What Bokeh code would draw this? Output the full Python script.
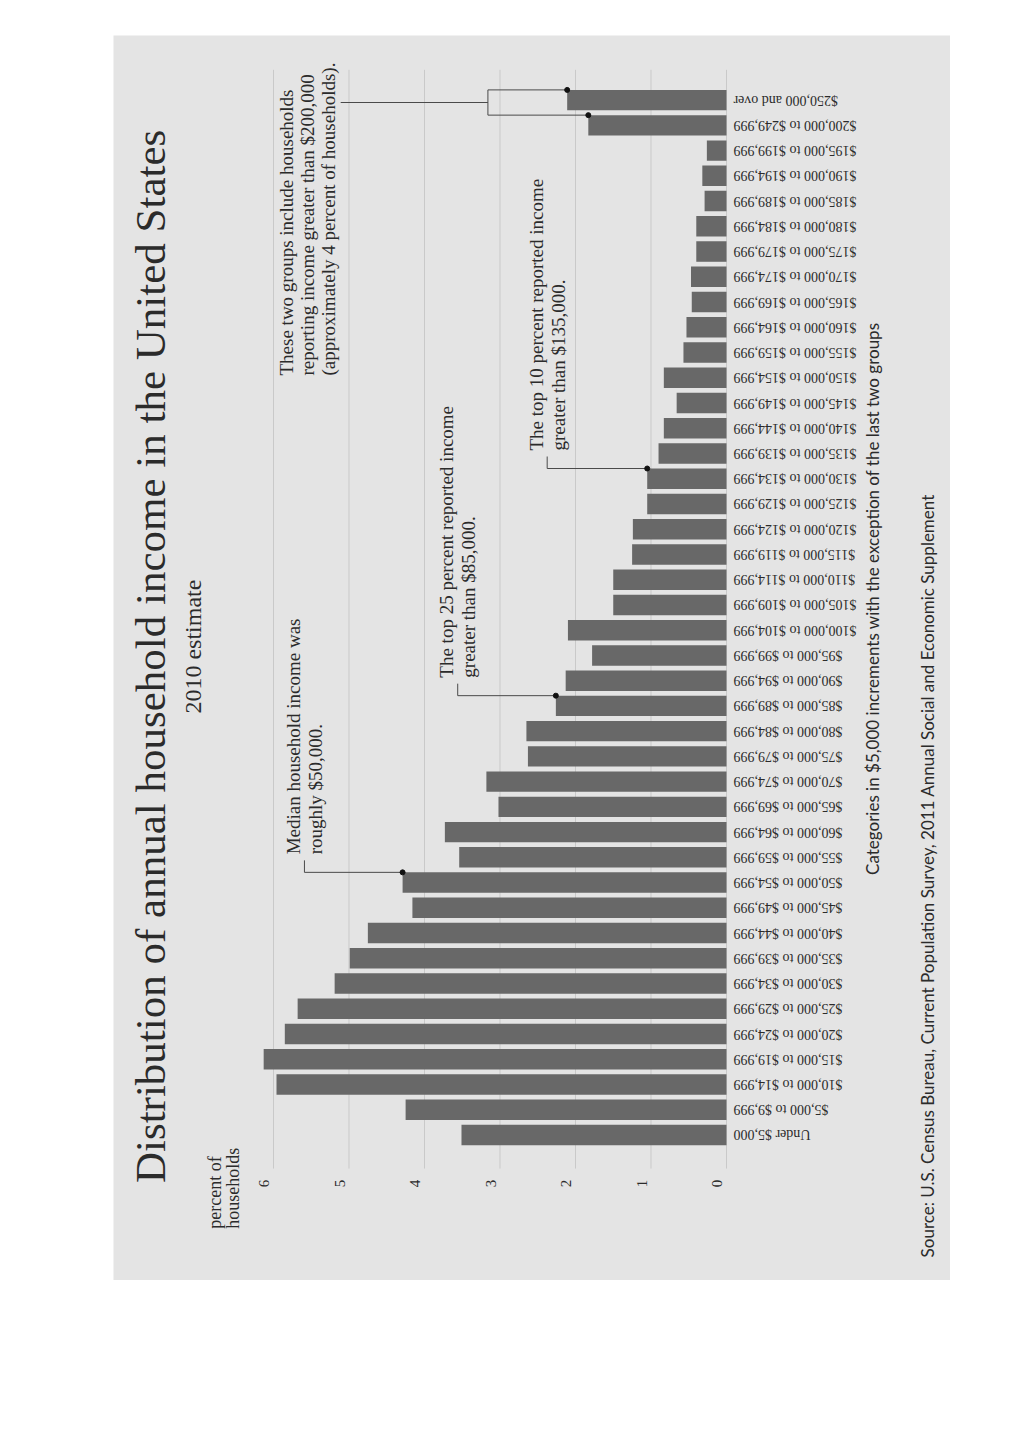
import math
from bokeh.plotting import figure
from bokeh.models import Range1d
from bokeh.embed import file_html
from bokeh.resources import INLINE
from bokeh.core.properties import value

# ---------------- data ----------------
categories = [
    "Under $5,000", "$5,000 to $9,999", "$10,000 to $14,999", "$15,000 to $19,999",
    "$20,000 to $24,999", "$25,000 to $29,999", "$30,000 to $34,999", "$35,000 to $39,999",
    "$40,000 to $44,999", "$45,000 to $49,999", "$50,000 to $54,999", "$55,000 to $59,999",
    "$60,000 to $64,999", "$65,000 to $69,999", "$70,000 to $74,999", "$75,000 to $79,999",
    "$80,000 to $84,999", "$85,000 to $89,999", "$90,000 to $94,999", "$95,000 to $99,999",
    "$100,000 to $104,999", "$105,000 to $109,999", "$110,000 to $114,999", "$115,000 to $119,999",
    "$120,000 to $124,999", "$125,000 to $129,999", "$130,000 to $134,999", "$135,000 to $139,999",
    "$140,000 to $144,999", "$145,000 to $149,999", "$150,000 to $154,999", "$155,000 to $159,999",
    "$160,000 to $164,999", "$165,000 to $169,999", "$170,000 to $174,999", "$175,000 to $179,999",
    "$180,000 to $184,999", "$185,000 to $189,999", "$190,000 to $194,999", "$195,000 to $199,999",
    "$200,000 to $249,999", "$250,000 and over",
]
percent = [
    3.51, 4.25, 5.96, 6.13, 5.85, 5.68, 5.19, 4.99, 4.75, 4.16,
    4.29, 3.54, 3.73, 3.02, 3.18, 2.63, 2.65, 2.26, 2.13, 1.78,
    2.10, 1.50, 1.50, 1.25, 1.24, 1.05, 1.05, 0.90, 0.83, 0.66,
    0.83, 0.57, 0.53, 0.46, 0.47, 0.40, 0.40, 0.29, 0.32, 0.26,
    1.83, 2.11,
]
ticks = [0, 1, 2, 3, 4, 5, 6]
tick_labels = ["0", "1", "2", "3", "4", "5", "6"]

title_text = "Distribution of annual household income in the United States"
subtitle_text = "2010 estimate"
axis_title_lines = ["percent of", "households"]
note_text = "Categories in $5,000 increments with the exception of the last two groups"
source_text = ("Source: U.S. Census Bureau, Current Population Survey, 2011 Annual Social "
               "and Economic Supplement")

callouts = [
    dict(idx=10, lines=["Median household income was", "roughly $50,000."]),
    dict(idx=17, lines=["The top 25 percent reported income", "greater than $85,000."]),
    dict(idx=26, lines=["The top 10 percent reported income", "greater than $135,000."]),
]
callout_x = [5.59, 3.56, 2.375]
top_lines = ["These two groups include households",
             "reporting income greater than $200,000",
             "(approximately 4 percent of households)."]

# ---------------- style ----------------
PAGE = "#e4e4e4"
BAR = "#686868"
GRID = "#c9c9c9"
INK = "#2b2b2b"
LEAD = "#4a4a4a"
SERIF = "Liberation Serif"
SANS = "Lato"
BAR_H = 0.81
UNIT = 75.5            # px per percent
ROW = 25.24            # px per category

idx = list(range(len(categories)))

p = figure(width=837, height=1245, output_backend="svg", toolbar_location=None,
           x_range=Range1d(8.119, -2.967), y_range=Range1d(-5.765, 43.56),
           x_axis_location=None, y_axis_location=None, min_border=0, title=None,
           background_fill_color=PAGE, border_fill_color=PAGE, outline_line_color=None)
p.margin = (35, 67, 132, 113)
p.grid.visible = False

# grid lines
p.segment(x0=ticks, x1=ticks, y0=[-1.33] * len(ticks), y1=[42.2] * len(ticks),
          line_color=GRID, line_width=1)

# bars
p.hbar(y=idx, left=0, right=percent, height=BAR_H, fill_color=BAR, line_color=None)

# category labels (upside down)
p.text(x=[-7 / UNIT] * len(idx), y=idx, text=categories, angle=math.pi,
       text_align="right", text_baseline="middle", text_font=value(SERIF),
       text_font_size="14px", text_color=INK)

# value tick labels
p.text(x=[t + 9 / UNIT for t in ticks], y=[-1.92] * len(ticks), text=tick_labels,
       angle=math.pi / 2, text_align="center", text_baseline="middle",
       text_font=value(SERIF), text_font_size="15px", text_color=INK)

# axis title
p.text(x=[6.77, 6.53], y=[-3.71, -3.71], text=axis_title_lines, angle=math.pi / 2,
       text_align="left", text_baseline="middle", text_font=value(SERIF),
       text_font_size="18px", text_color=INK)

# title / subtitle
p.text(x=[7.63], y=[18.96], text=[title_text], angle=math.pi / 2, text_align="center",
       text_baseline="middle", text_font=value(SERIF), text_font_size="43px", text_color=INK)
p.text(x=[7.07], y=[19.35], text=[subtitle_text], angle=math.pi / 2, text_align="center",
       text_baseline="middle", text_font=value(SERIF), text_font_size="24px", text_color=INK)

# notes
p.text(x=[-1.93], y=[21.25], text=[note_text], angle=math.pi / 2, text_align="center",
       text_baseline="middle", text_font=value(SANS), text_font_size="17px", text_color=INK)
p.text(x=[-2.66], y=[-4.85], text=[source_text], angle=math.pi / 2, text_align="left",
       text_baseline="middle", text_font=value(SANS), text_font_size="17px", text_color=INK)

# callouts with leader lines
TICK = 12 / ROW
GAP = 6 / ROW
LINE_SP = 22 / UNIT
dots_x, dots_y, lx, ly = [], [], [], []
tx, ty, tt = [], [], []
for c, cx in zip(callouts, callout_x):
    bx = percent[c["idx"]]
    by = c["idx"] + BAR_H / 2
    dots_x.append(bx)
    dots_y.append(by)
    lx.append([bx, cx, cx])
    ly.append([by, by, by + TICK])
    n = len(c["lines"])
    for k, line in enumerate(c["lines"]):
        tx.append(cx + LINE_SP * ((n - 1) / 2 - k))
        ty.append(by + TICK + GAP)
        tt.append(line)

# bracket for the last two groups
i1, i2 = len(categories) - 1, len(categories) - 2
BR_X = 3.16
y1 = i1 + BAR_H / 2
y2 = i2 + BAR_H / 2
dots_x += [percent[i1], percent[i2]]
dots_y += [y1, y2]
lx.append([percent[i1], BR_X, BR_X, percent[i2]])
ly.append([y1, y1, y2, y2])
ymid = (y1 + y2) / 2
lx.append([BR_X, 5.11])
ly.append([ymid, ymid])
for k, line in enumerate(top_lines):
    tx.append(5.83 - k * 21 / UNIT)
    ty.append(30.09)
    tt.append(line)

p.multi_line(xs=lx, ys=ly, line_color=LEAD, line_width=1)
p.scatter(x=dots_x, y=dots_y, size=5, color="#111111")
p.text(x=tx, y=ty, text=tt, angle=math.pi / 2, text_align="left", text_baseline="middle",
       text_font=value(SERIF), text_font_size="19px", text_color=INK)

open("out.html", "w").write(file_html(p, INLINE))
